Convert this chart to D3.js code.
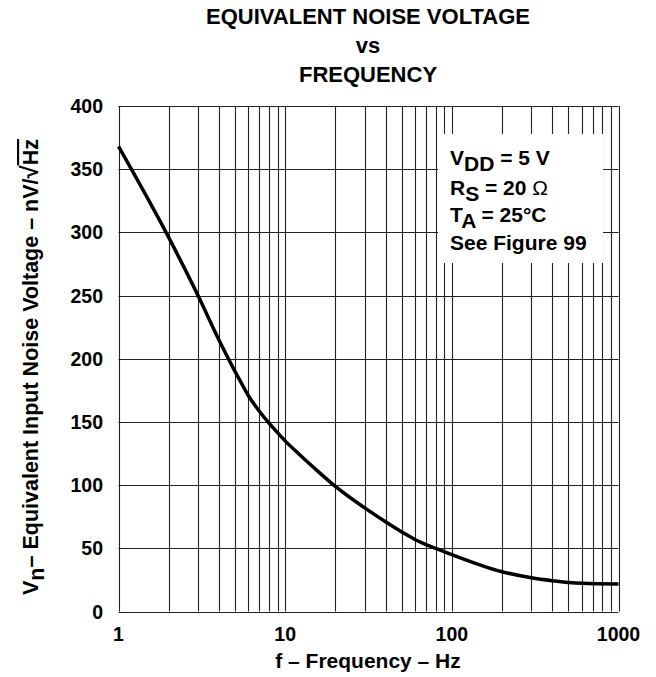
<!DOCTYPE html>
<html>
<head>
  <meta charset="utf-8">
  <script src="https://d3js.org/d3.v7.min.js"></script>
  <title>Equivalent Noise Voltage vs Frequency</title>
</head>
<style>
html,body {
  margin: 0;
  background: white;
}
svg {
  display: block;
  font-family: 'Liberation Sans', Arial, Helvetica, sans-serif;
  font-weight: bold;
}
</style>
<body>
<script type="text/javascript">
// data
var freq  = [1, 2, 3, 4, 5, 5.5, 6, 7, 8, 9, 10, 12, 15, 20, 30, 40, 50, 60, 70, 80, 100, 200, 300, 400, 500, 600, 1000];
var noise = [368, 296, 250, 215, 190, 180, 171, 158.5, 149, 141.5, 135, 125, 113.3, 99, 82, 71, 63, 57, 53, 50, 45, 31.5, 26.7, 24.4, 23, 22.3, 21.7];
var xTicks = [1, 10, 100, 1000];
var yTicks = [0, 50, 100, 150, 200, 250, 300, 350, 400];
var titleLines = ["EQUIVALENT NOISE VOLTAGE", "vs", "FREQUENCY"];

var W = 656, H = 677;
var pLeft = 118.5, pRight = 618.5, pTop = 106, pBottom = 611.5;

var svg = d3.select("body").append("svg")
  .attr("width", W)
  .attr("height", H);

var x = d3.scaleLog().domain([1, 1000]).range([pLeft, pRight]);
var y = d3.scaleLinear().domain([0, 400]).range([pBottom, pTop]);

// minor log lines 1..9 per decade
var vLines = [];
[1, 10, 100].forEach(function(d) {
  for (var k = 1; k < 10; k++) vLines.push(d * k);
});
vLines.push(1000);

var grid = svg.append("g").attr("stroke", "#222").attr("stroke-width", 1.1);
grid.selectAll(".v").data(vLines).enter().append("line")
  .attr("x1", function(d) { return Math.round(x(d)) + 0.5; })
  .attr("x2", function(d) { return Math.round(x(d)) + 0.5; })
  .attr("y1", pTop).attr("y2", pBottom);
grid.selectAll(".h").data(yTicks).enter().append("line")
  .attr("x1", pLeft).attr("x2", pRight)
  .attr("y1", function(d) { return Math.round(y(d)) + 0.5; })
  .attr("y2", function(d) { return Math.round(y(d)) + 0.5; });

// legend box blanks the grid
svg.append("rect")
  .attr("x", 438).attr("y", 134)
  .attr("width", 165).attr("height", 129)
  .attr("fill", "white");

// curve
var line = d3.line()
  .x(function(d, i) { return x(freq[i]); })
  .y(function(d) { return y(d); })
  .curve(d3.curveMonotoneX);

svg.append("path")
  .datum(noise)
  .attr("d", line)
  .attr("fill", "none")
  .attr("stroke", "black")
  .attr("stroke-width", 3.5);

// tick labels
svg.selectAll(".yl").data(yTicks).enter().append("text")
  .attr("x", 103)
  .attr("y", function(d) { return y(d) + 7; })
  .attr("text-anchor", "end")
  .attr("font-size", "19.5px")
  .text(function(d) { return d; });

svg.selectAll(".xl").data(xTicks).enter().append("text")
  .attr("x", function(d) { return x(d); })
  .attr("y", 641)
  .attr("text-anchor", "middle")
  .attr("font-size", "19.5px")
  .text(function(d) { return d; });

// title
svg.selectAll(".title").data(titleLines).enter().append("text")
  .attr("x", 368)
  .attr("y", function(d, i) { return [24, 53, 82][i]; })
  .attr("text-anchor", "middle")
  .attr("font-size", "22px")
  .text(function(d) { return d; });

// x axis title
svg.append("text")
  .attr("x", 368).attr("y", 668)
  .attr("text-anchor", "middle")
  .attr("font-size", "21px")
  .text("f \u2013 Frequency \u2013 Hz");

// y axis title
var yt = svg.append("text")
  .attr("transform", "translate(38,367) rotate(-90)")
  .attr("text-anchor", "middle")
  .attr("font-size", "21.5px");
yt.append("tspan").text("V");
yt.append("tspan").attr("dy", 6).text("n");
yt.append("tspan").attr("dy", -6).text("\u2013 Equivalent Input Noise Voltage \u2013  nV/");
yt.append("tspan").attr("font-size", "24px").text("\u221A");
yt.append("tspan").style("text-decoration", "overline").text("Hz");

// legend text
var legend = svg.append("g").attr("font-size", "21px");
var l1 = legend.append("text").attr("x", 450).attr("y", 165);
l1.append("tspan").text("V");
l1.append("tspan").attr("dy", 6).text("DD");
l1.append("tspan").attr("dy", -6).text(" = 5 V");
var l2 = legend.append("text").attr("x", 450).attr("y", 195);
l2.append("tspan").text("R");
l2.append("tspan").attr("dy", 6).text("S");
l2.append("tspan").attr("dy", -6).text(" = 20 ");
l2.append("tspan").attr("font-weight", "normal").text("\u03A9");
var l3 = legend.append("text").attr("x", 450).attr("y", 222);
l3.append("tspan").text("T");
l3.append("tspan").attr("dy", 6).text("A");
l3.append("tspan").attr("dy", -6).text(" = 25\u00B0C");
legend.append("text").attr("x", 450).attr("y", 250).text("See Figure 99");
</script>
</body>
</html>
